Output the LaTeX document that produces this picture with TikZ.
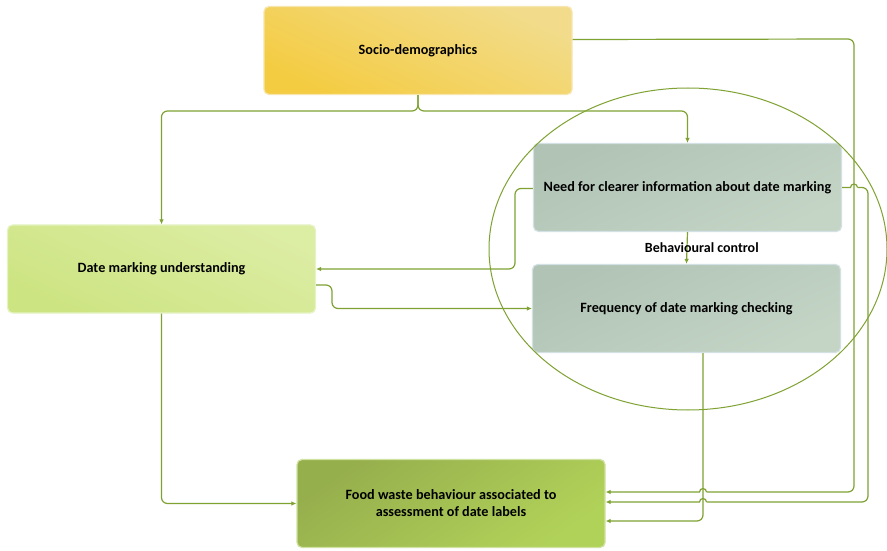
\documentclass[tikz,border=0pt]{standalone}
\usepackage{fontspec}
\setmainfont{Carlito}
\usetikzlibrary{arrows.meta}

\definecolor{connGreen}{HTML}{7FA233}
\definecolor{socioTop}{HTML}{F2DC8C}
\definecolor{socioBot}{HTML}{F4CC42}
\definecolor{socioEdge}{HTML}{F7E6AE}
\definecolor{greyTop}{HTML}{B0C3B5}
\definecolor{greyBot}{HTML}{C4D5C6}
\definecolor{greyEdge}{HTML}{D3E0E4}
\definecolor{limeTop}{HTML}{DCEDA4}
\definecolor{limeBot}{HTML}{CDE482}
\definecolor{limeEdge}{HTML}{E6F3C4}
\definecolor{oliveTop}{HTML}{96AF4D}
\definecolor{oliveBot}{HTML}{B1D259}
\definecolor{oliveEdge}{HTML}{CFE2A0}

\tikzset{
  box/.style={rounded corners=5pt, minimum width=308pt, minimum height=88pt,
    align=center, line width=1.2pt, font=\bfseries\fontsize{14.2}{17}\selectfont},
  conn/.style={draw=connGreen, line width=1.2pt, rounded corners=6pt},
  tip/.style={-{Latex[length=5pt,width=4.5pt]}}
}

\begin{document}
\begin{tikzpicture}[x=1pt,y=1pt]
  \useasboundingbox (0,0) rectangle (887,550);
  \fill[white] (0,0) rectangle (887,550);

  % boxes
  \node[box, draw=socioEdge, top color=socioTop, bottom color=socioBot, shading angle=-25]
    (socio) at (418,499.5) {Socio-demographics};
  \node[box, draw=greyEdge, top color=greyTop, bottom color=greyBot, shading angle=25]
    (need) at (687.5,362.5) {Need for clearer information about date marking};
  \node[box, draw=greyEdge, top color=greyTop, bottom color=greyBot, shading angle=25]
    (freq) at (686.5,241.5) {Frequency of date marking checking};
  \node[box, draw=limeEdge, top color=limeTop, bottom color=limeBot, shading angle=-25]
    (date) at (161.5,281) {Date marking understanding};
  \node[box, draw=oliveEdge, top color=oliveTop, bottom color=oliveBot, shading angle=35]
    (food) at (451,46.5) {Food waste behaviour associated to\\assessment of date labels};

  % socio-demographics branches
  \draw[conn,tip] (socio.south) -- (418,439) -- (date.north |- 0,439) -- (date.north);
  \draw[conn,tip] (socio.south) -- (418,439) -- (need.north |- 0,439) -- (need.north);

  % socio-demographics to food waste, long way round
  \draw[conn] ([yshift=11pt]socio.east) -- (854,511) -- (854,58) -- (706.5,58);
  \draw[conn,sharp corners,tip] (706.5,58) arc[start angle=0,end angle=180,radius=3.5] -- (food.east |- 0,58);

  % need -> food waste
  \draw[conn,sharp corners] (need.east) -- (850.5,362.5) arc[start angle=180,end angle=0,radius=3.5];
  \draw[conn] (857.5,362.5) -- (868,362.5) -- (868,48) -- (706.5,48);
  \draw[conn,sharp corners,tip] (706.5,48) arc[start angle=0,end angle=180,radius=3.5] -- (food.east |- 0,48);

  % need -> date marking
  \draw[conn,tip] ([yshift=-1pt]need.west) -- (515,361.5) -- (515,281) -- (date.east);
  % date marking -> frequency
  \draw[conn,tip] ([yshift=-16pt]date.east) -- (332,265) -- (332,241.5) -- (freq.west);
  % need -> frequency
  \draw[conn,tip] (need.south) -- node[right, xshift=-46pt, font=\bfseries\fontsize{14}{16}\selectfont] (bc) {Behavioural control} (freq.north);
  % frequency -> food waste
  \draw[conn,tip] ([xshift=16.5pt]freq.south) -- (703,29) -- (food.east |- 0,29);
  % date marking -> food waste
  \draw[conn,tip] (date.south) -- (161.5,46.5) -- (food.west);

  % behavioural control ellipse
  \draw[connGreen, line width=1pt] (688,301) ellipse [x radius=199, y radius=161];
\end{tikzpicture}
\end{document}
